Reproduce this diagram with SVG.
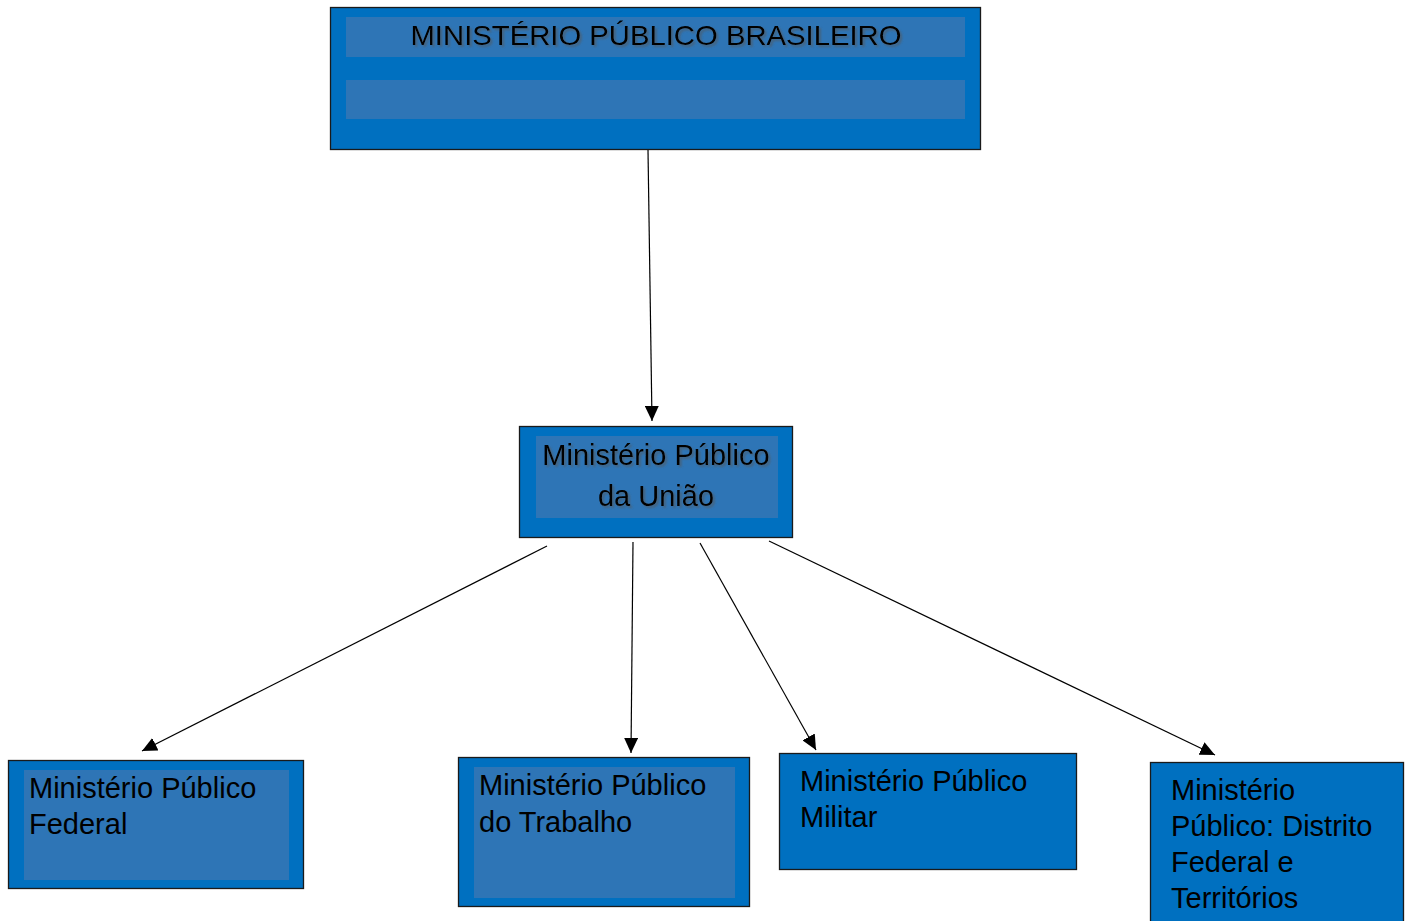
<svg xmlns="http://www.w3.org/2000/svg" width="1411" height="921" viewBox="0 0 1411 921">
<style>
.box{fill:#0070C0;stroke:#1a1a1a;stroke-width:1.3}
.inner{fill:#2E75B6}
.t{font-family:"Liberation Sans",Arial,sans-serif;font-size:29px;fill:#000}
.sh{filter:url(#shadow)}
.c{stroke:#000;stroke-width:1.2;fill:none;marker-end:url(#ah)}
</style>
<defs>
<marker id="ah" viewBox="0 0 15 14" refX="15" refY="7" markerWidth="15" markerHeight="14" markerUnits="userSpaceOnUse" orient="auto">
<path d="M0,0 L15,7 L0,14 Z" fill="#000"/>
</marker>
<filter id="shadow" x="-10%" y="-30%" width="120%" height="160%">
<feGaussianBlur in="SourceAlpha" stdDeviation="1"/>
<feOffset dx="1.5" dy="1.5" result="b"/>
<feFlood flood-color="#555" flood-opacity="0.6"/>
<feComposite in2="b" operator="in"/>
<feMerge><feMergeNode/><feMergeNode in="SourceGraphic"/></feMerge>
</filter>
</defs>
<g id="connectors">
<line class="c" x1="648" y1="150" x2="652" y2="421"/>
<line class="c" x1="547" y1="546" x2="142" y2="751"/>
<line class="c" x1="633" y1="542" x2="631" y2="753"/>
<line class="c" x1="700" y1="543" x2="816" y2="750"/>
<line class="c" x1="769" y1="541" x2="1215" y2="755"/>
</g>
<g id="mpb">
<rect class="box" x="330.5" y="7.5" width="650" height="142"/>
<rect class="inner" x="346" y="17" width="619" height="40"/>
<rect class="inner" x="346" y="80" width="619" height="39"/>
<text class="t sh" x="656" y="45" text-anchor="middle" style="font-size:28px" textLength="491" lengthAdjust="spacingAndGlyphs">MINISTÉRIO PÚBLICO BRASILEIRO</text>
</g>
<g id="mpu">
<rect class="box" x="519.5" y="426.5" width="273" height="111"/>
<rect class="inner" x="536" y="436" width="242" height="82"/>
<text class="t sh" x="656" y="465" text-anchor="middle">Ministério Público</text>
<text class="t sh" x="656" y="506" text-anchor="middle">da União</text>
</g>
<g id="mpf">
<rect class="box" x="8.5" y="760.5" width="295" height="128"/>
<rect class="inner" x="24" y="770" width="265" height="110"/>
<text class="t" x="29" y="798">Ministério Público</text>
<text class="t" x="29" y="834">Federal</text>
</g>
<g id="mpt">
<rect class="box" x="458.5" y="757.5" width="291" height="149"/>
<rect class="inner" x="474" y="767" width="261" height="131"/>
<text class="t" x="479" y="795">Ministério Público</text>
<text class="t" x="479" y="832">do Trabalho</text>
</g>
<g id="mpm">
<rect class="box" x="779.5" y="753.5" width="297" height="116"/>
<text class="t" x="800" y="791">Ministério Público</text>
<text class="t" x="800" y="827">Militar</text>
</g>
<g id="mpdft">
<rect class="box" x="1150.5" y="762.5" width="253" height="170"/>
<text class="t" x="1171" y="800">Ministério</text>
<text class="t" x="1171" y="836">Público: Distrito</text>
<text class="t" x="1171" y="872">Federal e</text>
<text class="t" x="1171" y="908">Territórios</text>
</g>
</svg>
